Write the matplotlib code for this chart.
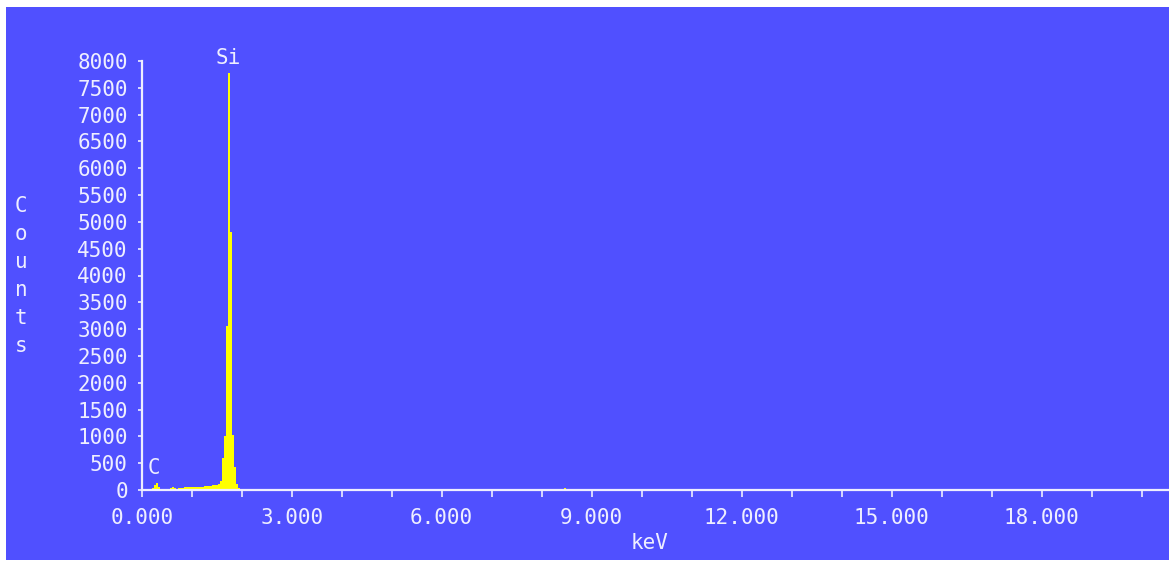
import matplotlib
matplotlib.use("Agg")
import matplotlib.pyplot as plt
from matplotlib.patches import Rectangle
from matplotlib.ticker import MultipleLocator, FixedLocator, FuncFormatter

# ---- data ----
energy_keV = [0.02, 0.06, 0.10, 0.14, 0.18, 0.22, 0.26, 0.30, 0.34, 0.38,
              0.42, 0.46, 0.50, 0.54, 0.58, 0.62, 0.66, 0.70, 0.74, 0.78,
              0.82, 0.86, 0.90, 0.94, 0.98, 1.02, 1.06, 1.10, 1.14, 1.18,
              1.22, 1.26, 1.30, 1.34, 1.38, 1.42, 1.46, 1.50, 1.54, 1.58,
              1.62, 1.66, 1.70, 1.74, 1.78, 1.82, 1.86, 1.90, 1.94, 1.98,
              2.02]
counts = [0, 0, 5, 10, 15, 30, 90, 125, 50, 15,
          10, 10, 12, 20, 35, 50, 40, 25, 30, 40,
          45, 48, 50, 50, 52, 55, 55, 58, 60, 62,
          65, 70, 72, 75, 80, 85, 90, 100, 120, 160,
          600, 1000, 3050, 7780, 4810, 1030, 420, 120, 40, 20,
          15]
minor_energy_keV = [4.66, 8.46]
minor_counts = [25, 35]
channel_width = 0.04

peak_labels = ["Si", "C"]
peak_label_x = [1.73, 0.25]
peak_label_y = [8060, 410]

x_max = 20.55
y_max = 8000
xtick_major = [0, 3, 6, 9, 12, 15, 18]
ytick_step = 500

# ---- style ----
W, H = 1169, 562
BG = "#5050ff"
FG = "#eeeeff"
YEL = "#ffff00"
FONT = "DejaVu Sans Mono"
FS = 15

fig = plt.figure(figsize=(W / 100, H / 100), dpi=100)
fig.patch.set_facecolor("white")
fig.add_artist(Rectangle((6 / W, 2 / H), (W - 6) / W, (H - 9) / H,
                         transform=fig.transFigure, facecolor=BG,
                         edgecolor="none", zorder=0))

left, right = 141.7, 1169
top, bottom = 61, 490
ax = fig.add_axes([left / W, 1 - bottom / H, (right - left) / W, (bottom - top) / H])
ax.set_facecolor(BG)
ax.patch.set_alpha(0)

ax.bar(energy_keV, counts, width=channel_width, color=YEL, edgecolor="none", zorder=2)
ax.bar(minor_energy_keV, minor_counts, width=channel_width, color=YEL, edgecolor="none", zorder=2)

ax.set_xlim(0, x_max)
ax.set_ylim(0, y_max)

for s in ["top", "right"]:
    ax.spines[s].set_visible(False)
for s in ["left", "bottom"]:
    ax.spines[s].set_color(FG)
    ax.spines[s].set_linewidth(1.6)
    ax.spines[s].set_zorder(3)

ax.xaxis.set_major_locator(FixedLocator(xtick_major))
ax.xaxis.set_minor_locator(MultipleLocator(1))
ax.xaxis.set_major_formatter(FuncFormatter(lambda v, p: f"{v:.3f}"))
ax.yaxis.set_major_locator(MultipleLocator(ytick_step))
ax.yaxis.set_major_formatter(FuncFormatter(lambda v, p: f"{int(round(v))}"))

ax.tick_params(axis="both", which="both", direction="out", color=FG, width=1.2,
               labelcolor=FG, labelsize=FS)
ax.tick_params(axis="x", which="both", length=5, pad=8)
ax.tick_params(axis="y", which="both", length=3, pad=7)
for lab in ax.get_xticklabels() + ax.get_yticklabels():
    lab.set_fontfamily(FONT)

for t, x, y in zip(peak_labels, peak_label_x, peak_label_y):
    ax.text(x, y, t, color=FG, fontsize=FS, family=FONT, ha="center",
            va="center", clip_on=False, zorder=4)

fig.text(650 / W, 1 - 543 / H, "keV", color=FG, fontsize=FS, family=FONT,
         ha="center", va="center")
fig.text(21 / W, 1 - 276 / H, "C\no\nu\nn\nt\ns", color=FG, fontsize=FS,
         family=FONT, ha="center", va="center", linespacing=1.5)

fig.savefig("out.png", dpi=100, facecolor=fig.get_facecolor())
